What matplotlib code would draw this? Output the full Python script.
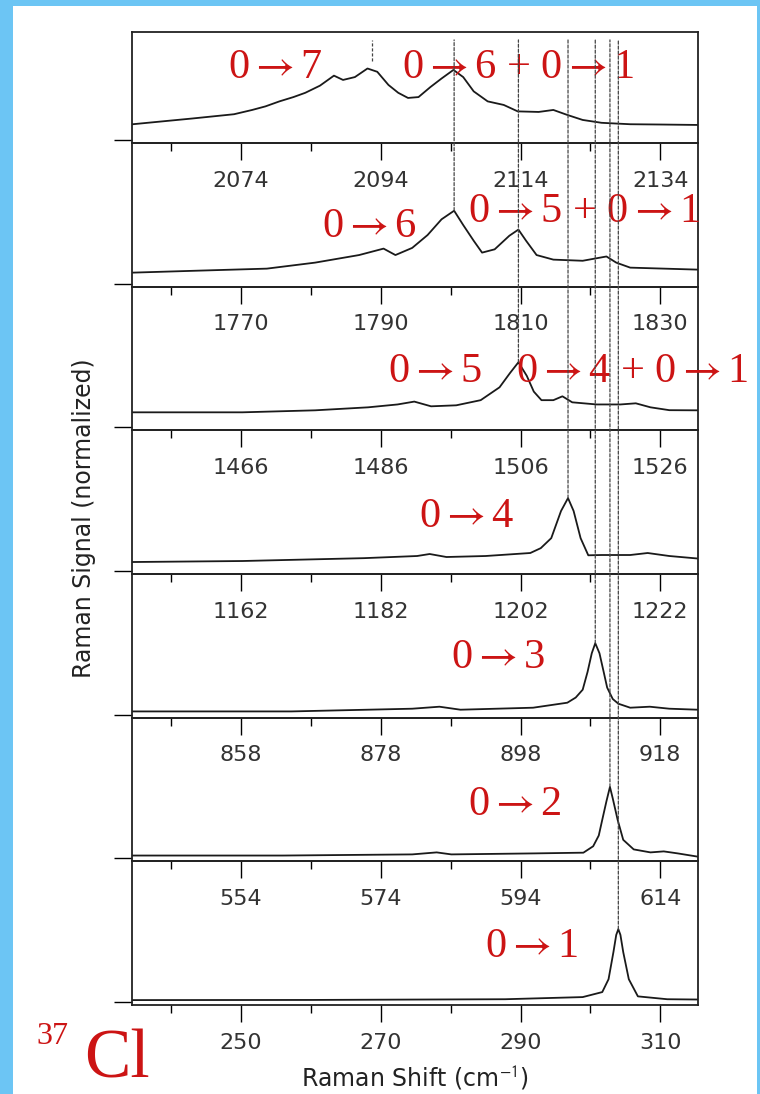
import numpy as np
import matplotlib.pyplot as plt
from matplotlib.patches import ConnectionPatch, Rectangle

plt.rcParams['mathtext.fontset'] = 'stix'

# first labelled tick of each panel (top -> bottom), panels share a 79 cm-1 window
first_tick = [2074, 1770, 1466, 1162, 858, 554, 250]
# centre of each overtone peak (marked with the dashed guide lines)
line_pos = [2092.8, 1800.5, 1505.7, 1208.8, 908.7, 606.8, 304.0]

# spectra (shift in cm-1, normalized signal)
shift_07 = [2058.5, 2063.8, 2067.0, 2070.0, 2073.0, 2075.6, 2077.5, 2079.5, 2081.5, 2083.2,
            2085.3, 2087.3, 2088.6, 2090.3, 2092.1, 2093.5, 2095.1, 2096.5, 2097.9, 2099.4,
            2101.1, 2102.7, 2104.4, 2105.8, 2107.3, 2109.3, 2111.6, 2113.6, 2116.6, 2118.7,
            2120.7, 2122.9, 2125.6, 2129.7, 2134.0, 2139.4]
signal_07 = [0.11, 0.135, 0.15, 0.165, 0.18, 0.21, 0.235, 0.27, 0.30, 0.33,
             0.38, 0.45, 0.42, 0.44, 0.50, 0.477, 0.385, 0.33, 0.294, 0.30,
             0.37, 0.43, 0.49, 0.44, 0.34, 0.27, 0.245, 0.20, 0.196, 0.21,
             0.175, 0.14, 0.12, 0.11, 0.108, 0.105]

shift_06 = [1754.5, 1763.3, 1773.7, 1780.6, 1786.9, 1790.4, 1792.1, 1794.5, 1796.7, 1798.7,
            1800.5, 1801.8, 1803.3, 1804.5, 1806.3, 1808.4, 1809.7, 1810.8, 1812.3, 1814.7,
            1818.9, 1822.3, 1823.7, 1825.7, 1835.4]
signal_06 = [0.077, 0.09, 0.105, 0.147, 0.20, 0.245, 0.20, 0.25, 0.34, 0.45,
             0.51, 0.41, 0.30, 0.217, 0.24, 0.335, 0.378, 0.30, 0.20, 0.168,
             0.16, 0.19, 0.147, 0.112, 0.098]

shift_05 = [1450.5, 1466.2, 1476.6, 1484.2, 1488.4, 1490.8, 1493.2, 1496.8, 1500.3, 1503.0,
            1504.5, 1505.7, 1506.9, 1507.9, 1509.0, 1510.7, 1512.0, 1513.4, 1516.9, 1520.3,
            1522.5, 1524.6, 1527.3, 1531.4]
signal_05 = [0.105, 0.105, 0.119, 0.14, 0.16, 0.18, 0.147, 0.154, 0.19, 0.28,
             0.38, 0.455, 0.36, 0.25, 0.19, 0.19, 0.217, 0.175, 0.16, 0.16,
             0.168, 0.14, 0.12, 0.119]

shift_04 = [1146.5, 1162.2, 1179.6, 1187.2, 1189.0, 1191.4, 1197.0, 1203.4, 1204.9, 1206.4,
            1207.8, 1208.8, 1209.6, 1210.6, 1211.7, 1213.6, 1217.7, 1220.2, 1223.3, 1231.4]
signal_04 = [0.063, 0.07, 0.09, 0.105, 0.119, 0.098, 0.105, 0.126, 0.16, 0.23,
             0.42, 0.51, 0.42, 0.23, 0.11, 0.112, 0.112, 0.126, 0.105, 0.07]

shift_03 = [842.5, 865.2, 882.5, 886.4, 889.4, 899.8, 904.7, 905.9, 906.9, 907.6,
            908.2, 908.7, 909.3, 909.9, 910.4, 911.2, 912.0, 913.7, 916.5, 919.3, 927.4]
signal_03 = [0.023, 0.023, 0.042, 0.056, 0.035, 0.049, 0.084, 0.12, 0.175, 0.30,
             0.43, 0.50, 0.43, 0.30, 0.19, 0.11, 0.077, 0.049, 0.056, 0.042, 0.028]

shift_02 = [538.5, 560.0, 578.5, 582.0, 584.1, 596.0, 603.0, 604.4, 605.2, 605.7,
            606.3, 606.8, 607.2, 607.9, 608.7, 610.2, 612.6, 614.5, 616.5, 619.4]
signal_02 = [0.02, 0.02, 0.028, 0.042, 0.028, 0.035, 0.04, 0.085, 0.16, 0.27,
             0.40, 0.50, 0.42, 0.27, 0.13, 0.063, 0.042, 0.049, 0.035, 0.012]

shift_01 = [234.5, 260.0, 287.8, 298.9, 301.7, 302.6, 303.3, 303.7, 304.0, 304.3,
            304.7, 305.5, 306.8, 311.0, 315.3]
signal_01 = [0.014, 0.015, 0.02, 0.035, 0.07, 0.16, 0.35, 0.47, 0.51, 0.47,
             0.35, 0.16, 0.04, 0.02, 0.018]

shifts = [shift_07, shift_06, shift_05, shift_04, shift_03, shift_02, shift_01]
signals = [signal_07, signal_06, signal_05, signal_04, signal_03, signal_02, signal_01]

annot_text = ['0→7', '0→6 + 0→1', '0→6', '0→5 + 0→1', '0→5', '0→4 + 0→1',
              '0→4', '0→3', '0→2', '0→1']
annot_panel = [0, 0, 1, 1, 2, 2, 3, 4, 5, 6]
annot_xy = [(0.170, 0.585), (0.477, 0.585), (0.336, 0.344), (0.594, 0.449),
            (0.452, 0.335), (0.678, 0.335), (0.507, 0.326), (0.564, 0.345),
            (0.594, 0.322), (0.624, 0.334)]

red = '#cc1414'
serif = ['Liberation Serif', 'DejaVu Serif']

fig = plt.figure(figsize=(7.6, 10.94), dpi=100, facecolor='#6cc5f4')
fig.add_artist(Rectangle((13 / 760, 0), 744 / 760, 1088 / 1094,
                         transform=fig.transFigure, facecolor='white',
                         edgecolor='none', zorder=-10))

gs = fig.add_gridspec(7, 1, height_ratios=[111] + [144] * 6, hspace=0,
                      left=0.1737, right=0.9184, top=0.9707, bottom=0.0814)
axes = [fig.add_subplot(gs[i]) for i in range(7)]

for i, ax in enumerate(axes):
    ft = first_tick[i]
    ax.set_facecolor('none')
    ax.plot(shifts[i], signals[i], color='#1a1a1a', lw=1.3)
    ax.set_xlim(ft - 15.6, ft + 65.4)
    ax.set_ylim(-0.02, 0.755 if i == 0 else 0.985)
    ax.set_xticks([ft + 20 * k for k in range(4)])
    ax.set_xticks([ft - 10 + 20 * k for k in range(4)], minor=True)
    ax.set_yticks([0])
    ax.set_yticklabels([])
    ax.tick_params(axis='x', which='major', direction='out', length=12, width=1,
                   pad=8, labelsize=16, labelcolor='#333333')
    ax.tick_params(axis='x', which='minor', direction='out', length=6, width=1)
    ax.tick_params(axis='y', direction='out', length=13, width=1)
    for sp in ax.spines.values():
        sp.set_linewidth(1.3)
        sp.set_color('#222222')

# dashed guides from each peak up to the top panel
top = axes[0]
for i, ax in enumerate(axes):
    x = line_pos[i]
    xtop = x - first_tick[i] + first_tick[0]
    ypk = max(signals[i])
    if i == 0:
        top.plot([x, x], [ypk + 0.05, 0.70], color='#444444', lw=0.9,
                 ls=(0, (2.5, 1.5)))
        continue
    con = ConnectionPatch(xyA=(x, ypk), coordsA=ax.transData,
                          xyB=(xtop, 0.70), coordsB=top.transData,
                          color='#444444', lw=0.9, ls=(0, (2.5, 1.5)))
    fig.add_artist(con)

for txt, p, (x, y) in zip(annot_text, annot_panel, annot_xy):
    axes[p].text(x, y, txt.replace('→', r'$\rightarrow$'),
                 transform=axes[p].transAxes, color=red,
                 fontsize=30.5, family=serif, ha='left', va='baseline',
                 clip_on=False, zorder=5)

fig.text(84 / 760, 1 - 518 / 1094, 'Raman Signal (normalized)', rotation=90,
         ha='center', va='center', fontsize=17, color='#222222')
fig.text(415 / 760, 1 - 1078 / 1094, r'Raman Shift (cm$^{\mathsf{-1}}$)',
         ha='center', va='center', fontsize=17, color='#222222')

fig.text(36 / 760, 1 - 1044 / 1094, '37', color=red, fontsize=23,
         family=serif, va='baseline')
fig.text(84 / 760, 1 - 1078 / 1094, 'Cl', color=red, fontsize=50,
         family=serif, va='baseline')

fig.savefig('out.png', dpi=100)
